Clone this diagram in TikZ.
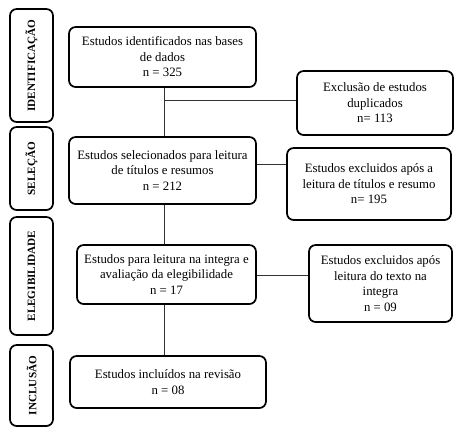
\documentclass[tikz,border=0pt]{standalone}
\usepackage{fontspec}
\setmainfont{Liberation Serif}
\usepackage{tikz}
\usetikzlibrary{positioning}

\begin{document}
\begin{tikzpicture}[x=0.75pt, y=-0.75pt,
  stepbox/.style={draw, line width=1.3pt, rounded corners=5pt, align=center, font=\fontsize{9.6}{11.6}\selectfont, inner sep=1pt},
  stage/.style={draw, line width=1.3pt, rounded corners=5pt, rotate=90, font=\fontsize{8.4}{10}\selectfont\bfseries, minimum height=32.25pt, inner sep=1pt},
  link/.style={draw, line width=0.5pt, black!80}]
\useasboundingbox (0,0) rectangle (455,430);
% stages on the left
\node[stage, minimum width=84.75pt] (sid) at (31.5,65.5) {IDENTIFICAÇÃO};
\node[stage, minimum width=62.25pt] (ssel) at (31.5,168.5) {SELEÇÃO};
\node[stage, minimum width=88.5pt] (seleg) at (31.5,276) {ELEGIBILIDADE};
\node[stage, minimum width=60.75pt] (sinc) at (31.5,385.5) {INCLUSÃO};
% main flow
\node[stepbox, minimum width=140.25pt, minimum height=45pt] (ident) at (162.5,57) {Estudos identificados nas bases\\de dados\\n = 325};
\node[stepbox, minimum width=140.25pt, minimum height=50.25pt] (selec) at (162.5,170.5) {Estudos selecionados para leitura\\de títulos e resumos\\n = 212};
\node[stepbox, minimum width=134.25pt, minimum height=44.25pt] (eleg) at (166.5,274.5) {Estudos para leitura na integra e\\avaliação da elegibilidade\\n = 17};
\node[stepbox, minimum width=147pt, minimum height=39pt] (incl) at (168,382) {Estudos incluídos na revisão\\n = 08};
% exclusions
\node[stepbox, minimum width=117pt, minimum height=48pt] (dupl) at (375,103) {Exclusão de estudos\\duplicados\\n= 113};
\node[stepbox, minimum width=123pt, minimum height=54pt] (extit) at (369,184) {Estudos excluidos após a\\leitura de títulos e resumo\\n= 195};
\node[stepbox, minimum width=107.25pt, minimum height=57.75pt] (extxt) at (380.5,283.5) {Estudos excluidos após\\leitura do texto na\\integra\\n = 09};
% connectors
\coordinate (j1) at (164,100);
\draw[link] (ident.south -| j1) -- (selec.north -| j1);
\draw[link] (j1) -- (j1 -| dupl.west);
\draw[link] (selec.south -| j1) -- (eleg.north -| j1);
\draw[link] (eleg.south -| j1) -- (incl.north -| j1);
\coordinate (j2) at (256,164);
\draw[link] (j2 -| selec.east) -- (j2 -| extit.west);
\coordinate (j3) at (256,275);
\draw[link] (j3 -| eleg.east) -- (j3 -| extxt.west);
\end{tikzpicture}
\end{document}
